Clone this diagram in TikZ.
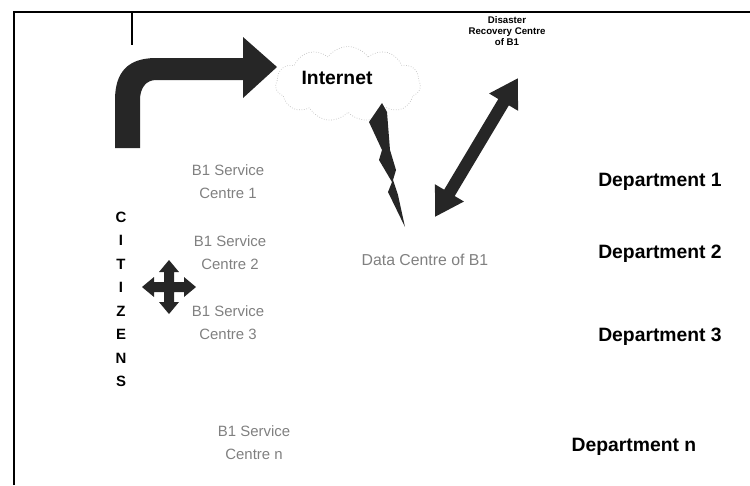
\documentclass[tikz,border=0pt]{standalone}
\usepackage{fontspec}
\setmainfont{Liberation Sans}
\usetikzlibrary{arrows.meta,shapes.symbols}

\tikzset{
  svc/.style={align=center, text=black!50, font=\fontsize{8.5}{13}\selectfont},
  dept/.style={font=\fontsize{11}{13}\bfseries\selectfont},
  letter/.style={font=\fontsize{8.5}{10}\bfseries\selectfont, inner sep=0pt},
  fat/.style={fill=black!85, draw=none}
}

\begin{document}
\begin{tikzpicture}[x=0.02cm, y=-0.02cm]
  \useasboundingbox (0,0) rectangle (750,485);

  % frame
  \draw[line width=1.1pt] (14,485) -- (14,12) -- (750,12);
  \draw[line width=1.1pt] (132,12) -- (132,45);

  % internet cloud
  \node[cloud, cloud puffs=11, cloud puff arc=110, aspect=2, densely dotted,
        draw=black!25, minimum width=2.9cm, minimum height=1.5cm] (cloud) at (348,84) {};
  \node[font=\fontsize{11}{13}\bfseries\selectfont] (inet) at (337,78) {Internet};

  % bent arrow up to the internet
  \path[fat] (115,148) -- (115,100) .. controls (115,72) and (128,58) .. (156,58)
    -- (243,58) -- (243,37) -- (277,67) -- (243,98) -- (243,80) -- (156,80)
    .. controls (146,80) and (140,88) .. (140,100) -- (140,148) -- cycle;

  % disaster recovery centre
  \node[align=center, font=\fontsize{5.5}{6.5}\bfseries\selectfont] (drc) at (507,31)
    {Disaster\\Recovery Centre\\of B1};

  % data centre
  \node[svc, font=\fontsize{9}{13}\selectfont] (dc) at (425,260) {Data Centre of B1};
  \coordinate (dc top) at (435,217);
  \coordinate (drc low) at (518,78);
  \draw[line width=7pt, black!85, {Triangle[length=16pt,width=18pt]}-{Triangle[length=16pt,width=18pt]}]
    (dc top) -- (drc low);

  % lightning from the cloud
  \path[fat] (382,103) -- (387,112) -- (390,150) -- (396,170) -- (393,180)
    -- (398,195) -- (405,227) -- (388,192) -- (392,182) -- (379,160)
    -- (382,150) -- (369,122) -- cycle;

  % service centres
  \node[svc] (sc1) at (228,182) {B1 Service\\Centre 1};
  \node[svc] (sc2) at (230,253) {B1 Service\\Centre 2};
  \node[svc] (sc3) at (228,323) {B1 Service\\Centre 3};
  \node[svc] (scn) at (254,443) {B1 Service\\Centre n};

  % citizens
  \foreach \ch [count=\i from 0] in {C,I,T,I,Z,E,N,S}
    \node[letter] (cit\i) at (121,{217+23.5*\i}) {\ch};

  % four way arrow
  \path[fat] (169,260) -- (179,272) -- (174,272) -- (174,282) -- (184,282)
    -- (184,277) -- (196,287) -- (184,297) -- (184,292) -- (174,292)
    -- (174,302) -- (179,302) -- (169,314) -- (159,302) -- (164,302)
    -- (164,292) -- (154,292) -- (154,297) -- (142,287) -- (154,277)
    -- (154,282) -- (164,282) -- (164,272) -- (159,272) -- cycle;

  % departments
  \node[dept] (dep1) at (660,182) {Department 1};
  \node[dept] (dep2) at (660,254) {Department 2};
  \node[dept] (dep3) at (660,337) {Department 3};
  \node[dept] (depn) at (634,447) {Department n};
\end{tikzpicture}
\end{document}
